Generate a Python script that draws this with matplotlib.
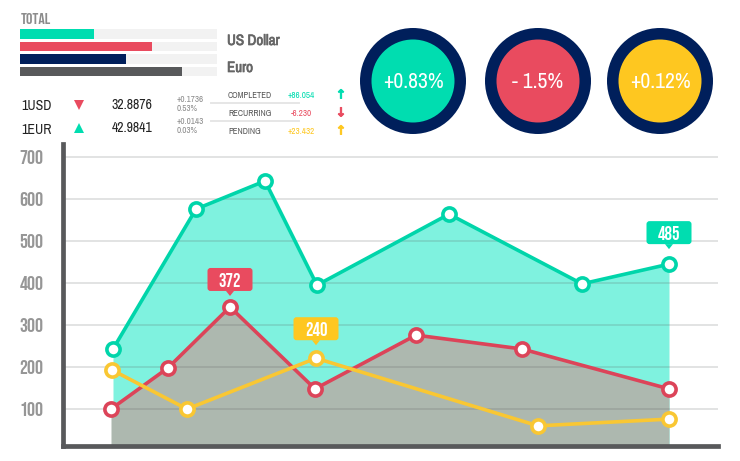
# dashboard style chart: area lines plus summary widgets on top
import matplotlib.pyplot as plt
import matplotlib.patheffects as pe
from matplotlib.patches import Circle, FancyBboxPatch, Polygon

NARROW = ['Archivo Narrow', 'Liberation Sans', 'DejaVu Sans']
BEBAS = ['Bebas Neue', 'Liberation Sans', 'DejaVu Sans']
plt.rcParams['font.family'] = NARROW

GREEN = '#00DDB0'
RED = '#E94B5F'
YELLOW = '#FEC720'
NAVY = '#001F5B'
GREY = '#58595B'

# main chart values
green_x = [113, 196, 265, 317, 449, 582, 669]
green_y = [243, 576, 643, 395, 564, 398, 445]
red_x = [111, 168, 230, 315, 416, 522, 669]
red_y = [100, 198, 343, 148, 276, 243, 148]
yellow_x = [112, 187, 316, 538, 669]
yellow_y = [193, 100, 221, 60, 76]
y_ticks = [100, 200, 300, 400, 500, 600, 700]

# top widgets
bar_values = [37.5, 67, 54, 82]
bar_colors = [GREEN, RED, NAVY, GREY]
circle_labels = ['+0.83%', '- 1.5%', '+0.12%']
circle_colors = [GREEN, RED, YELLOW]
status_names = ['COMPLETED', 'RECURRING', 'PENDING']
status_values = ['+86.054', '-6.230', '+23.432']
status_arrows = ['↑', '↓', '↑']
status_colors = [GREEN, RED, YELLOW]

fig = plt.figure(figsize=(7.4, 4.61), dpi=100)

# main chart
ax = fig.add_axes([63 / 740, 15 / 461, 655 / 740, 302 / 461])
ax.set_xlim(63, 718)
ax.set_ylim(12, 731)
ax.fill_between(green_x, green_y, color='#7FF2DF', lw=0, zorder=1)
ax.fill_between(red_x, red_y, color='#ADB8AF', lw=0, zorder=1.5)
for t in y_ticks:
    ax.axhline(t, color=GREY, alpha=0.2, lw=1.2, zorder=2)
style = dict(lw=2.6, ms=9.5, mew=2.6, mfc='white', marker='o', solid_joinstyle='miter')
ax.plot(green_x, green_y, color='#00D5AA', zorder=3, **style)
ax.plot(red_x, red_y, color='#DC4459', zorder=4, **style)
ax.plot(yellow_x, yellow_y, color='#F9C733', zorder=5, **style)

ax.set_yticks(y_ticks)
ax.set_yticklabels(y_ticks, family=BEBAS)
ax.set_xticks([])
ax.tick_params(axis='y', length=0, pad=14, labelsize=14.5, labelcolor='#969696')
for side in ['top', 'right']:
    ax.spines[side].set_visible(False)
for side in ['left', 'bottom']:
    ax.spines[side].set_color(GREY)
    ax.spines[side].set_linewidth(3.4)

# progress bars
bar_ax = fig.add_axes([20 / 740, (461 - 78) / 461, 197 / 740, 50 / 461])
bar_ax.barh(range(4), [100] * 4, height=0.76, color='#F2F2F2')
bar_ax.barh(range(4), bar_values, height=0.76, color=bar_colors)
bar_ax.set_xlim(0, 100)
bar_ax.set_ylim(3.5, -0.5)
bar_ax.axis('off')

# everything else is placed in pixel coordinates
top = fig.add_axes([0, 0, 1, 1], zorder=10)
top.set_xlim(0, 740)
top.set_ylim(461, 0)
top.axis('off')
top.patch.set_alpha(0)


def callout(x, y, text, color, gap):
    # box sits above the data point, gap is in pixels
    px, py = ax.transData.transform((x, y))
    py = 461 - py
    top.add_patch(FancyBboxPatch((px - 20.5, py - gap - 21), 41, 19, fc=color, ec='none',
                                 boxstyle='round,pad=2,rounding_size=3'))
    top.add_patch(Polygon([(px - 4, py - gap), (px + 4, py - gap), (px, py - gap + 5)],
                          fc=color, ec='none'))
    top.text(px, py - gap - 11, text, color='white', fontsize=13.5, family=BEBAS,
             ha='center', va='center')


callout(green_x[6], green_y[6], '485', GREEN, 20)
callout(red_x[2], red_y[2], '372', RED, 16)
callout(yellow_x[2], yellow_y[2], '240', YELLOW, 18)

bold = [pe.withStroke(linewidth=0.5, foreground='#666666')]
top.text(21, 18, 'TOTAL', fontsize=11.5, color='#8C8C8C', va='center', family=BEBAS)
top.text(227, 41, 'US Dollar', fontsize=10.8, color='#666666', va='center', path_effects=bold)
top.text(227, 68, 'Euro', fontsize=10.8, color='#666666', va='center', path_effects=bold)

top.text(21, 106, '1USD', fontsize=10, color='#222222', va='center')
top.text(21, 130, '1EUR', fontsize=10, color='#222222', va='center')
top.plot([79], [105], marker='v', ms=7, color=RED, mew=0)
top.plot([79], [128], marker='^', ms=7, color=GREEN, mew=0)
top.text(112, 105, '32.8876', fontsize=10, color='#222222', va='center')
top.text(112, 128, '42.9841', fontsize=10, color='#222222', va='center')
top.text(177, 99.5, '+0.1736', fontsize=6.5, color='#8C8C8C', va='center')
top.text(177, 108.5, '0.53%', fontsize=6.5, color='#8C8C8C', va='center')
top.text(177, 121, '+0.0143', fontsize=6.5, color='#8C8C8C', va='center')
top.text(177, 130, '0.03%', fontsize=6.5, color='#8C8C8C', va='center')

for i in range(3):
    yy = 95 + i * 18
    top.text(228, yy, status_names[i], fontsize=6.3, color='#555555', va='center')
    top.text(301, yy, status_values[i], fontsize=6.5, color=status_colors[i],
             va='center', ha='center')
    top.text(341, yy, status_arrows[i], fontsize=9, color=status_colors[i], va='center',
             ha='center', fontweight='bold', family='DejaVu Sans',
             path_effects=[pe.withStroke(linewidth=0.6, foreground=status_colors[i])])
for yy in [103, 121.5]:
    top.plot([211, 299], [yy, yy], color='#E6E6E6', lw=1.4)

for cx, lab, col in zip([413, 538, 660], circle_labels, circle_colors):
    top.add_patch(Circle((cx, 81), 53, fc=NAVY, ec='none'))
    top.add_patch(Circle((cx, 81), 41.5, fc=col, ec='none'))
    top.text(cx, 82.5, lab, color='white', fontsize=15.5, ha='center', va='center')

fig.savefig('out.png', dpi=100)
